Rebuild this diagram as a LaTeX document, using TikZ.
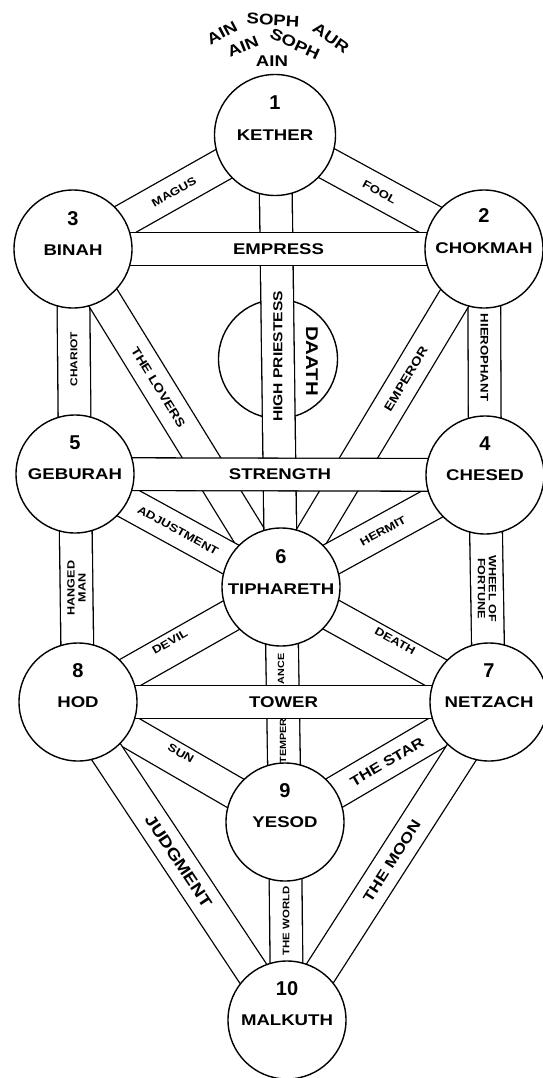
\documentclass[tikz,border=0pt]{standalone}
\usepackage{fontspec}
\setmainfont{Liberation Sans}
\newfontfamily\wide{Liberation Sans}[FakeStretch=1.2]
\pgfdeclarelayer{deep}
\pgfdeclarelayer{bands}
\pgfsetlayers{deep,bands,main}
\tikzset{
  sephira/.style={circle,draw,line width=1.4pt,fill=white,minimum size=118pt,inner sep=0pt},
  num/.style={font=\fontsize{20}{20}\selectfont\bfseries,inner sep=0pt},
  nm/.style={font=\wide\fontsize{15.5}{16}\selectfont\bfseries,inner sep=0pt},
  bandout/.style={line width=34pt,black},
  bandin/.style={line width=31.4pt,white},
  lbig/.style={font=\wide\fontsize{15.5}{16}\selectfont\bfseries,inner sep=0pt},
  lmid/.style={font=\wide\fontsize{13}{14}\selectfont\bfseries,inner sep=0pt},
  lsmall/.style={font=\wide\fontsize{11}{11}\selectfont\bfseries,inner sep=0pt},
  ltiny/.style={font=\wide\fontsize{10.5}{11}\selectfont\bfseries,inner sep=0pt,align=center},
  ltop/.style={font=\wide\fontsize{15.5}{15}\selectfont\bfseries,inner sep=0pt},
}
\newcommand\bandpath[2]{%
  \begin{pgfonlayer}{bands}
    \draw[bandout] (#1) -- (#2);
    \draw[bandin] (#1) -- (#2);
  \end{pgfonlayer}}
\begin{document}
\begin{tikzpicture}[x=1pt,y=-1pt]
\useasboundingbox (0,0) rectangle (543,1078);
% sephiroth
\node[sephira,minimum size=121pt] (k) at (275,135) {};
\node[sephira] (ch) at (484,249) {};
\node[sephira] (bi) at (73,249) {};
\node[sephira] (he) at (485,475) {};
\node[sephira] (ge) at (75,474) {};
\node[sephira] (ti) at (281,587) {};
\node[sephira] (ne) at (489,702) {};
\node[sephira] (ho) at (78,702) {};
\node[sephira] (ye) at (285,822) {};
\node[sephira] (ma) at (287,1020) {};
\begin{pgfonlayer}{deep}
\node[circle,draw,line width=1.4pt,fill=white,minimum size=119pt,inner sep=0pt] (da) at (278,359) {};
\end{pgfonlayer}
% numbers and names
\node[num] (k1) at ([yshift=32pt]k.center) {1};
\node[nm] (k2) at ([yshift=0pt]k.center) {KETHER};
\node[num] (ch1) at ([yshift=33pt]ch.center) {2};
\node[nm] (ch2) at ([yshift=1pt]ch.center) {CHOKMAH};
\node[num] (bi1) at ([yshift=30pt]bi.center) {3};
\node[nm] (bi2) at ([yshift=-1pt]bi.center) {BINAH};
\node[num] (he1) at ([yshift=31pt]he.center) {4};
\node[nm] (he2) at ([yshift=0pt]he.center) {CHESED};
\node[num] (ge1) at ([yshift=31pt]ge.center) {5};
\node[nm] (ge2) at ([yshift=0pt]ge.center) {GEBURAH};
\node[num] (ti1) at ([yshift=30pt]ti.center) {6};
\node[nm] (ti2) at ([yshift=-2pt]ti.center) {TIPHARETH};
\node[num] (ne1) at ([yshift=31pt]ne.center) {7};
\node[nm] (ne2) at ([yshift=0pt]ne.center) {NETZACH};
\node[num] (ho1) at ([yshift=31pt]ho.center) {8};
\node[nm] (ho2) at ([yshift=0pt]ho.center) {HOD};
\node[num] (ye1) at ([yshift=31pt]ye.center) {9};
\node[nm] (ye2) at ([yshift=0pt]ye.center) {YESOD};
\node[num] (ma1) at ([yshift=31pt]ma.center) {10};
\node[nm] (ma2) at ([yshift=0pt]ma.center) {MALKUTH};
% paths (bands)
\bandpath{bi.center}{k.center}
\bandpath{k.center}{ch.center}
\bandpath{bi.center}{ge.center}
\bandpath{ch.center}{he.center}
\bandpath{ge.center}{ho.center}
\bandpath{he.center}{ne.center}
\bandpath{bi.center}{ti.center}
\bandpath{k.center}{ti.center}
\bandpath{ti.center}{ch.center}
\bandpath{ge.center}{ti.center}
\bandpath{ti.center}{he.center}
\bandpath{ho.center}{ti.center}
\bandpath{ti.center}{ne.center}
\bandpath{ti.center}{ye.center}
\bandpath{ho.center}{ye.center}
\bandpath{ye.center}{ne.center}
\bandpath{[xshift=-5pt]ho.center}{[xshift=-3pt]ma.center}
\bandpath{[xshift=3pt]ma.center}{[xshift=5pt]ne.center}
\bandpath{ye.center}{ma.center}
\bandpath{bi.center}{ch.center}
\bandpath{ge.center}{he.center}
\bandpath{ho.center}{ne.center}
% labels
\path (bi.center) -- (k.center) node[lsmall,sloped,pos=.5] (lmagus) {MAGUS};
\path (k.center) -- (ch.center) node[lsmall,sloped,pos=.5] (lfool) {FOOL};
\path (bi.center) -- (ch.center) node[lbig,pos=.5] (lempress) {EMPRESS};
\path (k.center) -- (ti.center) node[lmid,rotate=90,pos=.49] (lhp) {HIGH PRIESTESS};
\node[font=\wide\fontsize{17}{17}\selectfont\bfseries,inner sep=0pt,rotate=-90] (ldaath) at (312,361) {DAATH};
\path (bi.center) -- (ti.center) node[sloped,pos=.41,inner sep=0pt,font=\wide\fontsize{12}{12}\selectfont\bfseries] (llovers) {THE LOVERS};
\path (bi.center) -- (ge.center) node[ltiny,rotate=90,pos=.49,font=\wide\fontsize{10}{10}\selectfont\bfseries] (lchariot) {CHARIOT};
\path (ch.center) -- (he.center) node[ltiny,rotate=-90,pos=.48,font=\wide\fontsize{11}{11}\selectfont\bfseries] (lhiero) {HIEROPHANT};
\path (ti.center) -- (ch.center) node[lsmall,sloped,pos=.615,font=\wide\fontsize{12}{12}\selectfont\bfseries] (lemperor) {EMPEROR};
\path (ge.center) -- (he.center) node[lbig,pos=.5] (lstrength) {STRENGTH};
\path (ge.center) -- (ti.center) node[lsmall,sloped,pos=.5] (ladj) {ADJUSTMENT};
\path (ti.center) -- (he.center) node[lsmall,sloped,pos=.5] (lhermit) {HERMIT};
\path (ge.center) -- (ho.center) node[ltiny,rotate=90,pos=.5] (lhanged) {HANGED\\MAN};
\path (he.center) -- (ne.center) node[ltiny,rotate=-90,pos=.5] (lwheel) {WHEEL OF\\FORTUNE};
\path (ho.center) -- (ti.center) node[lsmall,sloped,pos=.47,above=3pt] (ldevil) {DEVIL};
\path (ti.center) -- (ne.center) node[lsmall,sloped,pos=.53,above=4pt] (ldeath) {DEATH};
\node[ltiny,rotate=90,font=\wide\fontsize{9}{9}\selectfont\bfseries] (lance) at (281,669) {ANCE};
\node[ltiny,rotate=90,font=\wide\fontsize{9}{9}\selectfont\bfseries] (ltemper) at (283,741) {TEMPER};
\path (ho.center) -- (ne.center) node[lbig,pos=.5] (ltower) {TOWER};
\path (ho.center) -- (ye.center) node[lsmall,sloped,pos=.48,above=3pt] (lsun) {SUN};
\path (ye.center) -- (ne.center) node[sloped,pos=.5,inner sep=0pt,font=\wide\fontsize{14}{14}\selectfont\bfseries] (lstar) {THE STAR};
\path ([xshift=-5pt]ho.center) -- ([xshift=-3pt]ma.center) node[sloped,pos=.5,inner sep=0pt,font=\wide\fontsize{16}{16}\selectfont\bfseries] (ljudg) {JUDGMENT};
\path ([xshift=3pt]ma.center) -- ([xshift=5pt]ne.center) node[sloped,pos=.5,inner sep=0pt,font=\wide\fontsize{14.5}{14}\selectfont\bfseries] (lmoon) {THE MOON};
\path (ye.center) -- (ma.center) node[ltiny,rotate=90,pos=.5,font=\wide\fontsize{9.5}{9}\selectfont\bfseries] (lworld) {THE WORLD};
% top texts
\node[ltop,rotate=28] (t1) at (222,33) {AIN};
\node[ltop,rotate=-3] (t2) at (273,20) {SOPH};
\node[ltop,rotate=-35] (t3) at (331,38) {AUR};
\node[ltop,rotate=22] (t4) at (243,47) {AIN};
\node[ltop,rotate=-25] (t5) at (295,44) {SOPH};
\node[ltop] (t6) at (272,61) {AIN};
\end{tikzpicture}
\end{document}
